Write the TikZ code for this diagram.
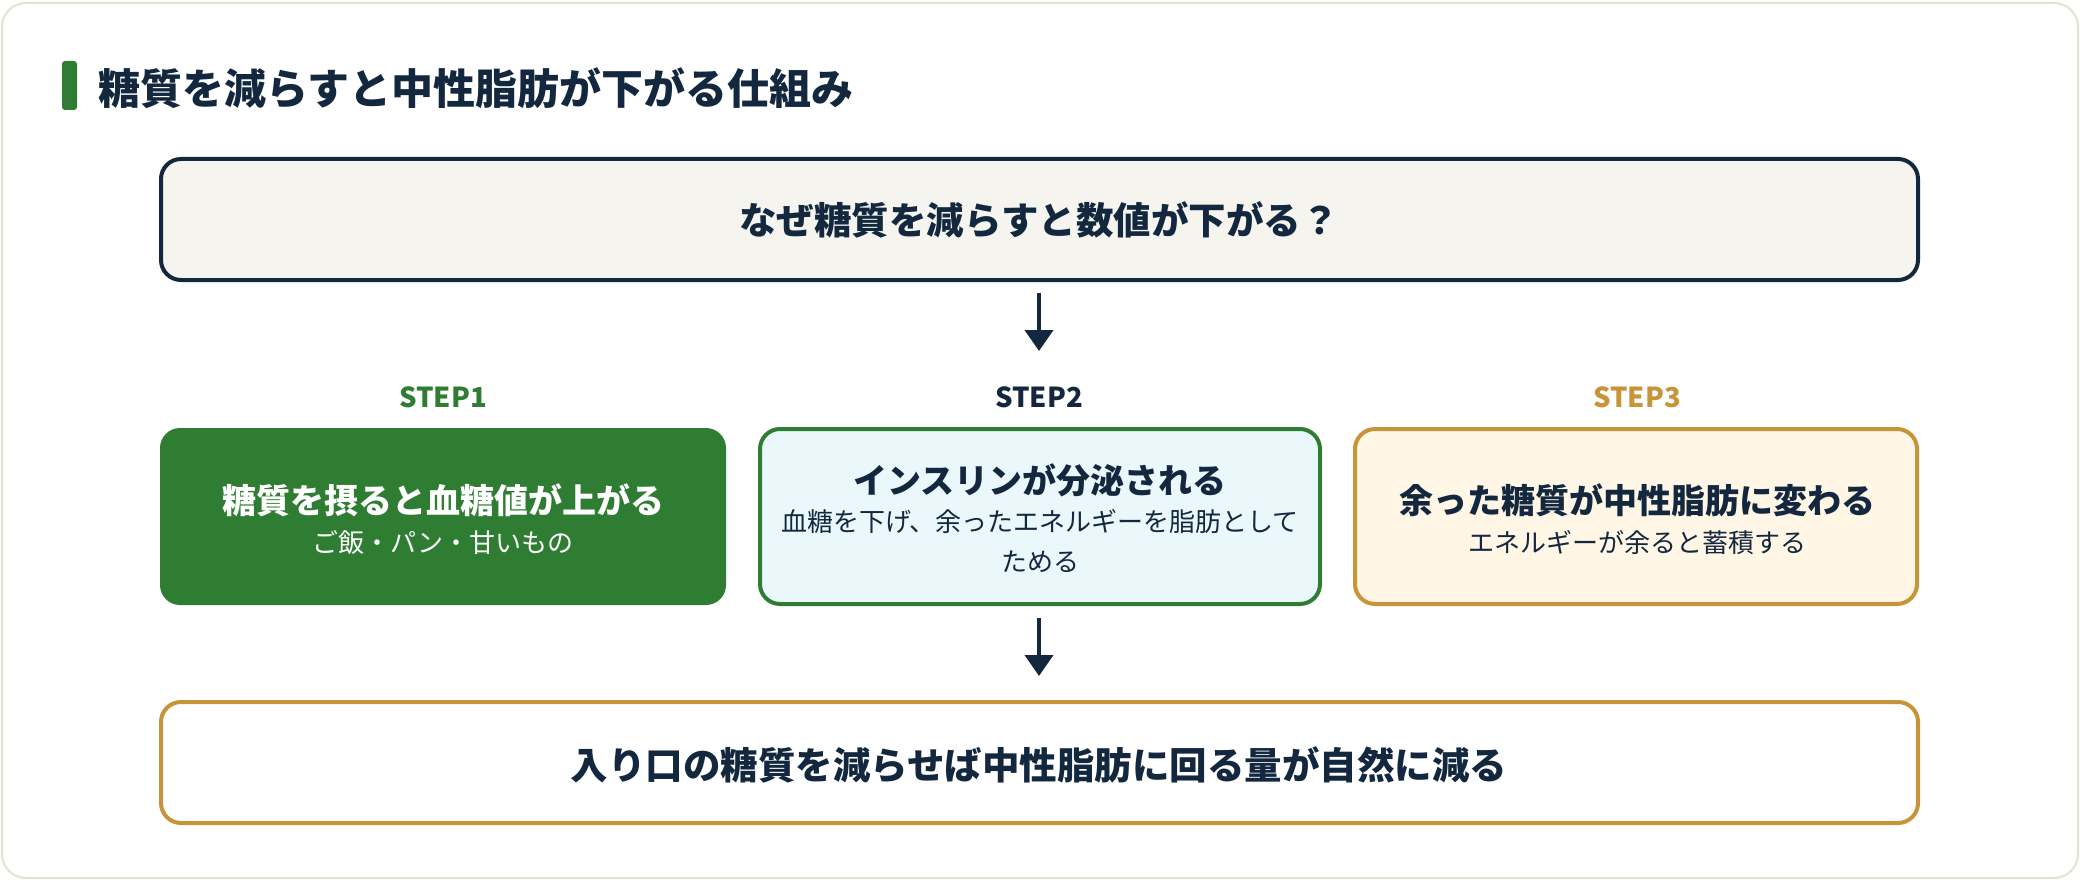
\documentclass[tikz,border=0pt]{standalone}
\usepackage{fontspec}
\setmainfont{Noto Sans CJK JP}
\usetikzlibrary{arrows.meta}
\definecolor{navy}{HTML}{13283F}
\definecolor{leaf}{HTML}{2F7D32}
\definecolor{gold}{HTML}{C8943A}
\definecolor{qfill}{HTML}{F5F4EF}
\definecolor{bluefill}{HTML}{EAF8FC}
\definecolor{creamfill}{HTML}{FFF6E6}
\definecolor{cardline}{HTML}{E4E2D4}
\tikzset{
  box/.style={rounded corners=20pt, line width=4pt},
  flowarrow/.style={draw=navy, line width=4pt, -{Triangle[length=21pt,width=28pt]}},
  steplabel/.style={font=\fontsize{27.5}{30}\selectfont\bfseries, anchor=center},
  maintext/.style={font=\fontsize{34}{40}\selectfont\bfseries, anchor=center},
  subtext/.style={font=\fontsize{26}{40}\selectfont, anchor=center},
  bigtext/.style={font=\fontsize{37.5}{44}\selectfont\bfseries, text=navy, anchor=center},
}
\begin{document}
\begin{tikzpicture}[x=1pt,y=-1pt]
\useasboundingbox (0,0) rectangle (2080,880);
\fill[white] (0,0) rectangle (2080,880);
% outer card
\draw[cardline, line width=2pt, rounded corners=24pt, fill=white] (2,3) rectangle (2078,878);
% title
\fill[leaf, rounded corners=3pt] (62,61) rectangle (77,110);
\node[anchor=west, text=navy, font=\fontsize{42}{48}\selectfont\bfseries] (title) at (95,88) {糖質を減らすと中性脂肪が下がる仕組み};
% question box
\draw[box, draw=navy, fill=qfill] (161,159) rectangle (1918,280);
\node[bigtext] (q) at (1039,220) {なぜ糖質を減らすと数値が下がる？};
\coordinate (qbot) at (1039,293);
\coordinate (s2top) at (1039,351);
\draw[flowarrow] (qbot) -- (s2top);
% step labels
\node[steplabel, text=leaf] (l1) at (443,397) {STEP1};
\node[steplabel, text=navy] (l2) at (1039,397) {STEP2};
\node[steplabel, text=gold] (l3) at (1637,397) {STEP3};
% step boxes
\fill[leaf, rounded corners=20pt] (160,428) rectangle (726,605);
\draw[box, draw=leaf, fill=bluefill] (760,429) rectangle (1320,604);
\draw[box, draw=gold, fill=creamfill] (1355,429) rectangle (1917,604);
\node[maintext, text=white] (m1) at (443,500) {糖質を摂ると血糖値が上がる};
\node[subtext, text=white] (s1) at (443,543) {ご飯・パン・甘いもの};
\node[maintext, text=navy] (m2) at (1040,480) {インスリンが分泌される};
\node[subtext, text=navy, align=center] (s2) at (1040,541) {血糖を下げ、余ったエネルギーを脂肪として\\ためる};
\node[maintext, text=navy] (m3) at (1637,500) {余った糖質が中性脂肪に変わる};
\node[subtext, text=navy] (s3) at (1637,543) {エネルギーが余ると蓄積する};
\coordinate (s2bot) at (1039,618);
\coordinate (rtop) at (1039,676);
\draw[flowarrow] (s2bot) -- (rtop);
% result box
\draw[box, draw=gold, fill=white] (161,702) rectangle (1918,823);
\node[bigtext] (r) at (1039,765) {入り口の糖質を減らせば中性脂肪に回る量が自然に減る};
\end{tikzpicture}
\end{document}
